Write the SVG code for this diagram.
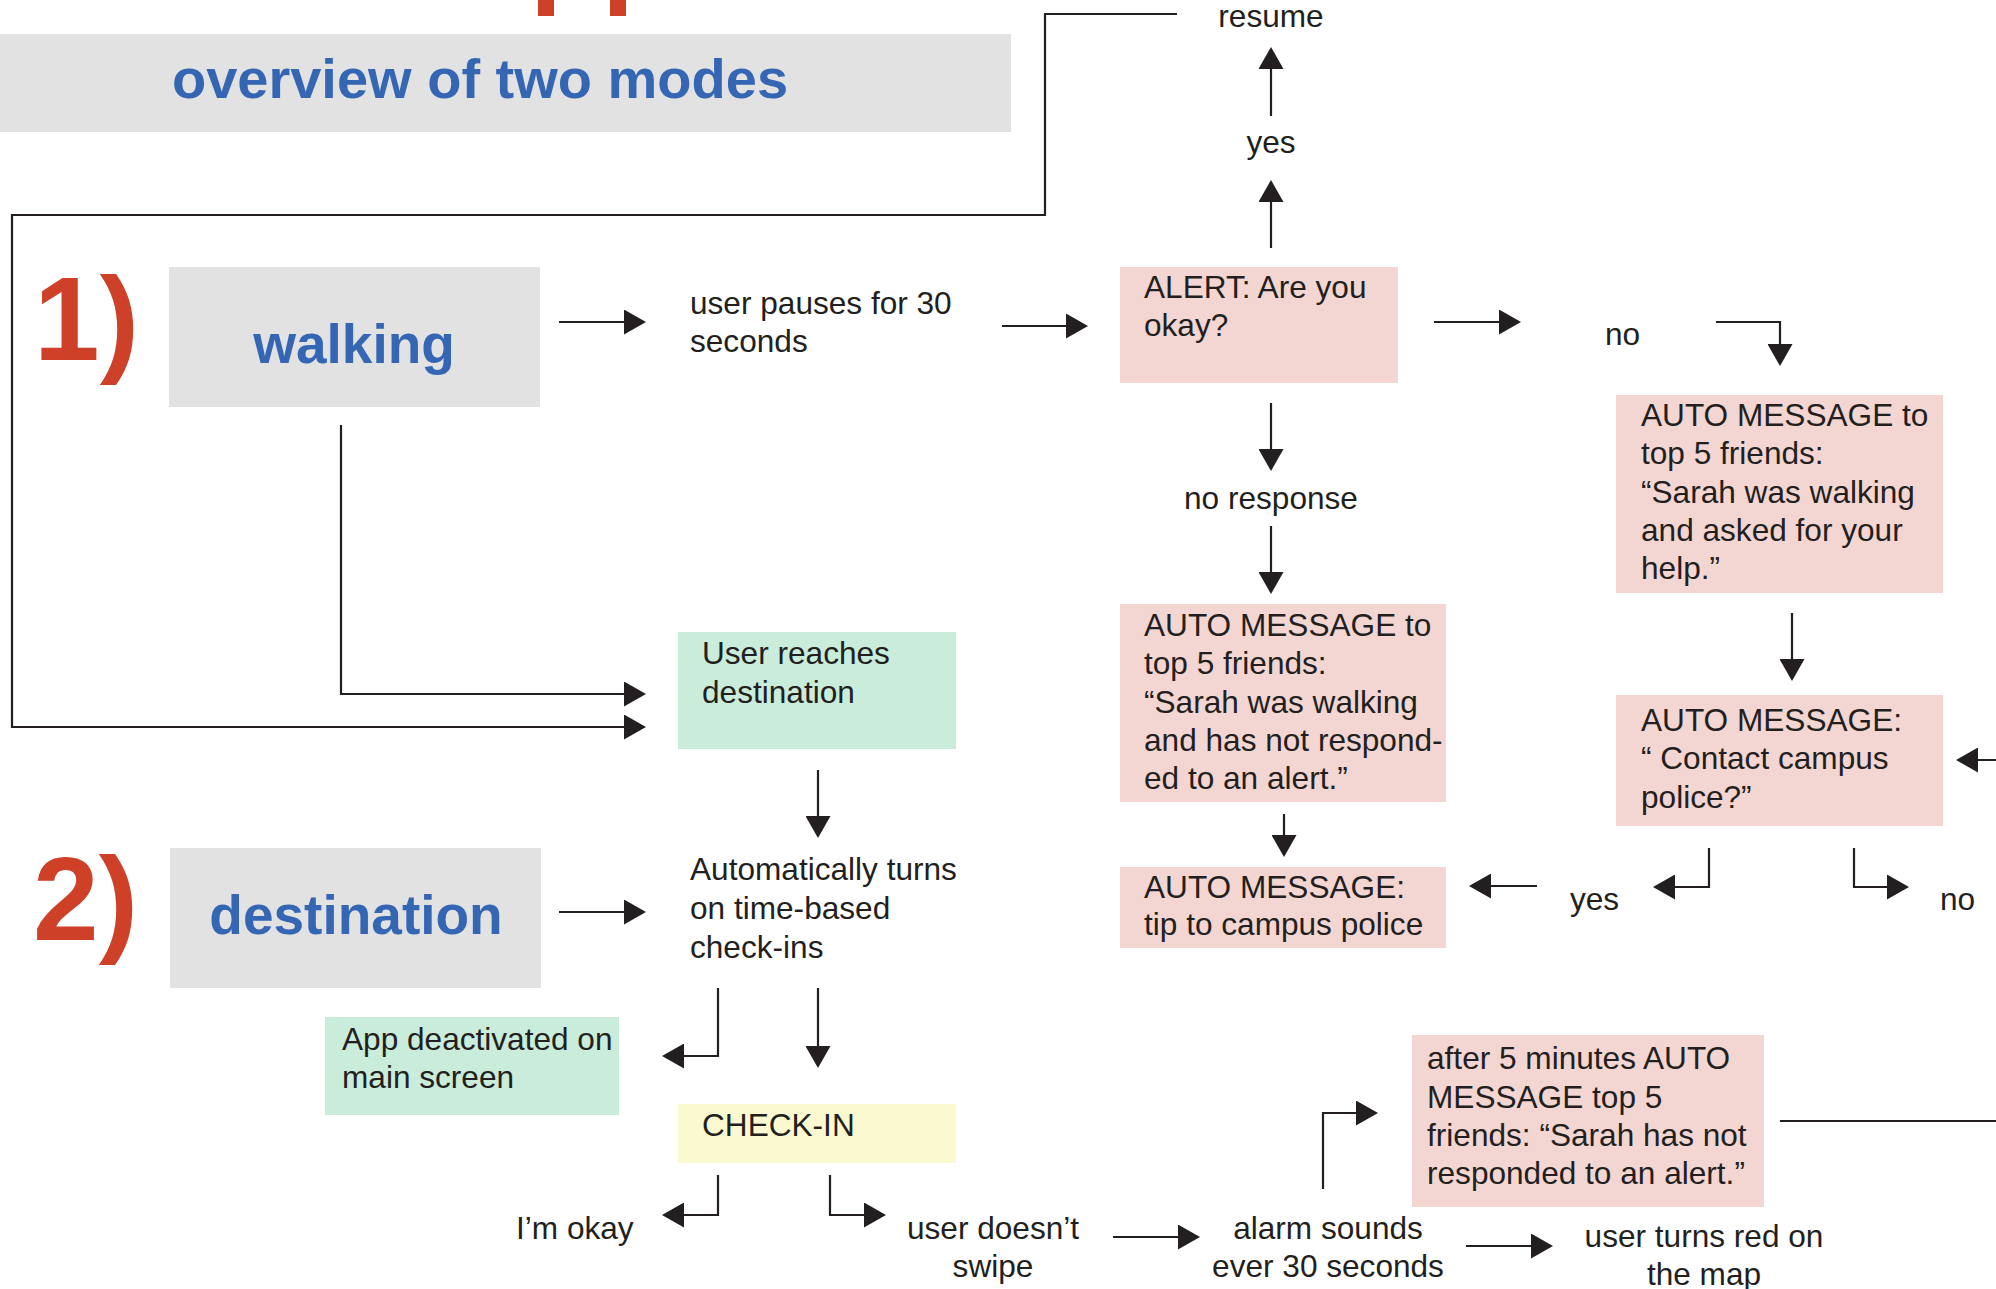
<svg xmlns="http://www.w3.org/2000/svg" width="1996" height="1289" viewBox="0 0 1996 1289">
<style>
  text { font-family: "Liberation Sans", Arial, Helvetica, sans-serif; fill: #231f20; font-size: 31.6px; }
  .big { font-weight: bold; fill: #3566b4; font-size: 55px; }
  .ttl { font-size: 56px; }
  .num { font-weight: bold; fill: #cf4028; font-size: 118px; }
  .mid { text-anchor: middle; }
  .gray { fill: #e2e2e2; }
  .pink { fill: #f3d6d2; }
  .green { fill: #c9ecdb; }
  .yellow { fill: #fbf9d0; }
  .conn path { fill: none; stroke: #231f20; stroke-width: 2.2; }
  .conn path.arr { marker-end: url(#ah); }
</style>
<defs>
  <marker id="ah" viewBox="0 0 22 25" refX="20" refY="12.5" markerWidth="22" markerHeight="25" markerUnits="userSpaceOnUse" orient="auto">
    <path d="M0,0 L22,12.5 L0,25 Z" fill="#231f20"/>
  </marker>
</defs>
<rect width="1996" height="1289" fill="#ffffff"/>

<!-- red fragments at the top edge -->
<rect x="538" y="0" width="16" height="16" fill="#cf4028"/>
<rect x="610" y="0" width="16" height="16" fill="#cf4028"/>

<g id="title">
  <rect class="gray" x="0" y="34" width="1011" height="98"/>
  <text class="big ttl mid" x="480" y="98">overview of two modes</text>
</g>

<g id="label1"><text class="num" x="34" y="360">1)</text></g>
<g id="label2"><text class="num" x="33" y="940">2)</text></g>

<g id="walking">
  <rect class="gray" x="169" y="267" width="371" height="140"/>
  <text class="big mid" x="354" y="363">walking</text>
</g>

<g id="destination">
  <rect class="gray" x="170" y="848" width="371" height="140"/>
  <text class="big mid" x="356" y="934">destination</text>
</g>

<g id="user-pauses">
  <text x="690" y="314">user pauses for 30</text>
  <text x="690" y="352">seconds</text>
</g>

<g id="alert">
  <rect class="pink" x="1120" y="267" width="278" height="116"/>
  <text x="1144" y="298">ALERT: Are you</text>
  <text x="1144" y="336">okay?</text>
</g>

<g id="resume"><text class="mid" x="1271" y="27">resume</text></g>
<g id="yes-top"><text class="mid" x="1271" y="153">yes</text></g>
<g id="no-top"><text x="1605" y="345">no</text></g>
<g id="no-response"><text class="mid" x="1271" y="509">no response</text></g>

<g id="auto-msg-left">
  <rect class="pink" x="1120" y="604" width="326" height="198"/>
  <text x="1144" y="636">AUTO MESSAGE to</text>
  <text x="1144" y="674">top 5 friends:</text>
  <text x="1144" y="713">“Sarah was walking</text>
  <text x="1144" y="751">and has not respond-</text>
  <text x="1144" y="789">ed to an alert.”</text>
</g>

<g id="auto-msg-tip">
  <rect class="pink" x="1120" y="867" width="326" height="81"/>
  <text x="1144" y="898">AUTO MESSAGE:</text>
  <text x="1144" y="935">tip to campus police</text>
</g>

<g id="auto-msg-right">
  <rect class="pink" x="1616" y="395" width="327" height="198"/>
  <text x="1641" y="426">AUTO MESSAGE to</text>
  <text x="1641" y="464">top 5 friends:</text>
  <text x="1641" y="503">“Sarah was walking</text>
  <text x="1641" y="541">and asked for your</text>
  <text x="1641" y="579">help.”</text>
</g>

<g id="auto-msg-police">
  <rect class="pink" x="1616" y="695" width="327" height="131"/>
  <text x="1641" y="731">AUTO MESSAGE:</text>
  <text x="1641" y="769">“ Contact campus</text>
  <text x="1641" y="808">police?”</text>
</g>

<g id="yes-low"><text x="1570" y="910">yes</text></g>
<g id="no-low"><text x="1940" y="910">no</text></g>

<g id="user-reaches">
  <rect class="green" x="678" y="632" width="278" height="117"/>
  <text x="702" y="664">User reaches</text>
  <text x="702" y="703">destination</text>
</g>

<g id="auto-checkins">
  <text x="690" y="880">Automatically turns</text>
  <text x="690" y="919">on time-based</text>
  <text x="690" y="958">check-ins</text>
</g>

<g id="app-deactivated">
  <rect class="green" x="325" y="1017" width="294" height="98"/>
  <text x="342" y="1050">App deactivated on</text>
  <text x="342" y="1088">main screen</text>
</g>

<g id="check-in">
  <rect class="yellow" x="678" y="1104" width="278" height="59"/>
  <text x="702" y="1136">CHECK-IN</text>
</g>

<g id="im-okay"><text x="516" y="1239">I’m okay</text></g>

<g id="no-swipe">
  <text class="mid" x="993" y="1239">user doesn’t</text>
  <text class="mid" x="993" y="1277">swipe</text>
</g>

<g id="alarm">
  <text class="mid" x="1328" y="1239">alarm sounds</text>
  <text class="mid" x="1328" y="1277">ever 30 seconds</text>
</g>

<g id="turns-red">
  <text class="mid" x="1704" y="1247">user turns red on</text>
  <text class="mid" x="1704" y="1285">the map</text>
</g>

<g id="after-5">
  <rect class="pink" x="1412" y="1035" width="352" height="172"/>
  <text x="1427" y="1069">after 5 minutes AUTO</text>
  <text x="1427" y="1108">MESSAGE top 5</text>
  <text x="1427" y="1146">friends: “Sarah has not</text>
  <text x="1427" y="1184">responded to an alert.”</text>
</g>

<g id="connectors" class="conn">
  <path class="arr" d="M1177,14 H1045 V215 H12 V727 H644"/>
  <path class="arr" d="M341,425 V694 H644"/>
  <path class="arr" d="M559,322 H644"/>
  <path class="arr" d="M1002,326 H1086"/>
  <path class="arr" d="M1271,248 V182"/>
  <path class="arr" d="M1271,116 V49"/>
  <path class="arr" d="M1434,322 H1519"/>
  <path class="arr" d="M1716,322 H1780 V364"/>
  <path class="arr" d="M1271,403 V469"/>
  <path class="arr" d="M1271,526 V592"/>
  <path class="arr" d="M1284,814 V855"/>
  <path class="arr" d="M1792,613 V679"/>
  <path class="arr" d="M1998,760 H1958"/>
  <path class="arr" d="M1709,848 V887 H1655"/>
  <path class="arr" d="M1854,848 V887 H1907"/>
  <path class="arr" d="M1537,886 H1471"/>
  <path class="arr" d="M818,770 V836"/>
  <path class="arr" d="M559,912 H644"/>
  <path class="arr" d="M718,988 V1056 H664"/>
  <path class="arr" d="M818,988 V1066"/>
  <path class="arr" d="M718,1175 V1215 H664"/>
  <path class="arr" d="M830,1175 V1215 H884"/>
  <path class="arr" d="M1113,1237 H1198"/>
  <path class="arr" d="M1323,1189 V1113 H1376"/>
  <path class="arr" d="M1466,1246 H1551"/>
  <path d="M1780,1121 H1998"/>
</g>
</svg>
